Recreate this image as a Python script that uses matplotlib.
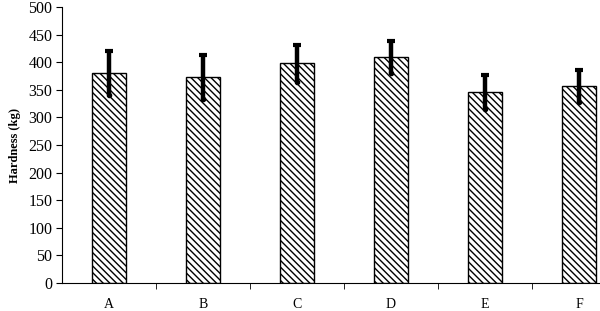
import matplotlib
matplotlib.use("Agg")
import matplotlib.pyplot as plt
import numpy as np

categories = ["A", "B", "C", "D", "E", "F"]
values = [380, 373, 398, 409, 346, 357]
errors = [40, 40, 34, 29, 31, 29]

plt.rcParams['font.family'] = ['Liberation Serif']
plt.rcParams['hatch.linewidth'] = 1.0

fig = plt.figure(figsize=(6, 3.11), dpi=100)
ax = fig.add_axes([0.1033, 0.090, 0.94, 0.8875])
x = np.arange(len(categories))
v = np.array(values)
e = np.array(errors)
ax.bar(x, v, width=0.36, color='white', edgecolor='black', linewidth=1.0, hatch='\\\\\\\\\\')
ax.errorbar(x, v, yerr=e, fmt='none', ecolor='black', elinewidth=3.2, capsize=0)
ax.plot(x, v + e, ls='none', marker='_', ms=6, mew=3, color='black')
ax.plot(x, v - e, ls='none', marker='o', ms=3, color='black')
ax.set_xlim(-0.5, len(categories) - 0.5)
ax.set_ylim(0, 500)
ax.set_yticks(range(0, 501, 50))
ax.set_xticks(x)
ax.set_xticklabels(categories, fontsize=10)
ax.set_xticks(np.arange(0.5, len(categories) - 0.5, 1), minor=True)
ax.tick_params(axis='x', which='major', length=0, pad=11)
ax.tick_params(axis='x', which='minor', length=4, direction='out')
ax.tick_params(axis='y', length=4, direction='out', labelsize=11.5, pad=3)
ax.spines['top'].set_visible(False)
ax.spines['right'].set_visible(False)
ax.set_ylabel("Hardness (kg)", fontsize=9, fontweight='bold', labelpad=5)
fig.savefig("out.png", dpi=100)
